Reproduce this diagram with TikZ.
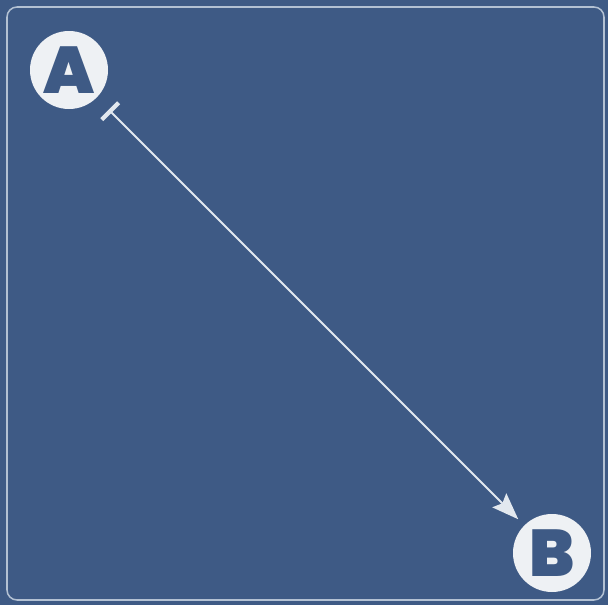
\documentclass[tikz,border=0pt]{standalone}
\usepackage{fontspec}
\setmainfont{Poppins}[BoldFont={* Black}]
\usetikzlibrary{arrows.meta}
\definecolor{pnavy}{HTML}{3E5A85}
\definecolor{pdisc}{HTML}{EEF1F4}
\definecolor{pline}{HTML}{E2E8EF}
\definecolor{pframe}{HTML}{B3C1D3}

\begin{document}
\begin{tikzpicture}[
  x=0.025cm,y=-0.025cm,
  point/.style={circle,fill=pdisc,minimum size=78*0.025cm,inner sep=0pt,
    font=\fontsize{47}{47}\selectfont\bfseries,text=pnavy},
  route/.style={draw=pline,line width=1.3pt,
    {Bar[width=17pt,line width=3pt]}-{Stealth[length=19pt,width=14pt,inset=3pt]}}
]
% backdrop and frame
\fill[pnavy] (0,0) rectangle (608,605);
\draw[pframe,line width=1.1pt,rounded corners=10*0.025cm] (7,7) rectangle (604,600);

% the two points
\node[point] (a) at (69,70) {A};
\node[point] (b) at (552,553) {B};

% connector
\draw[route,shorten <=12pt,shorten >=6pt] (a) -- (b);
\end{tikzpicture}
\end{document}
